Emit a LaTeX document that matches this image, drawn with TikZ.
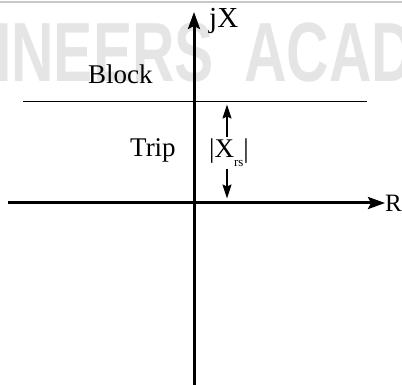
\documentclass[tikz,border=0pt]{standalone}
\usepackage{fontspec}
\setmainfont{Liberation Serif}
\newfontfamily\wmfont{Liberation Sans}
\usetikzlibrary{arrows.meta}
\begin{document}
\begin{tikzpicture}[x=1pt,y=-1pt,
  lbl/.style={inner sep=0pt,font=\fontsize{27}{30}\selectfont},
  axis/.style={line width=3pt,-{Stealth[length=17pt,width=12pt,inset=3pt]}},
  dim/.style={line width=1.5pt,-{Stealth[length=14pt,width=9pt,inset=2pt]}},
  wm/.style={inner sep=0pt,text=black!10,xscale=0.7,font=\wmfont\bfseries\fontsize{84}{90}\selectfont}]
\useasboundingbox (0,0) rectangle (402,385);
% watermark and top border
\draw[black!22,line width=1.5pt] (0,2) -- (402,2);
\node[wm,anchor=base west] (wm1) at (-5,82) {INEERS};
\node[wm,anchor=base west] (wm2) at (244,82) {ACAD};
% coordinates
\coordinate (ys) at (194,385);
\coordinate (ye) at (194,12);
\coordinate (xs) at (8,203);
\coordinate (xe) at (385,203);
\coordinate (bs) at (23,101.7);
\coordinate (be) at (367,101.7);
\coordinate (ta) at (227,104.5);
\coordinate (tb) at (227,198.5);
% lines
\draw[line width=1.2pt] (bs) -- (be);
\draw[axis] (ys) -- (ye);
\draw[axis] (xs) -- (xe);
% labels
\node[lbl,anchor=base west,font=\fontsize{29}{30}\selectfont] (jx) at (209,28) {jX};
\node[lbl,anchor=west,font=\fontsize{25}{30}\selectfont] (r) at (385,203) {R};
\node[lbl,anchor=base west] (block) at (88,84) {Block};
\node[lbl,anchor=base west] (trip) at (130,157) {Trip};
\node[lbl,anchor=base west,inner ysep=2pt] (xrs) at (209,158) {|X\raisebox{-9pt}{\fontsize{13}{13}\selectfont rs}|};
\draw[dim] (xrs.north -| ta) -- (ta);
\draw[dim] (xrs.south -| tb) -- (tb);
\end{tikzpicture}
\end{document}
